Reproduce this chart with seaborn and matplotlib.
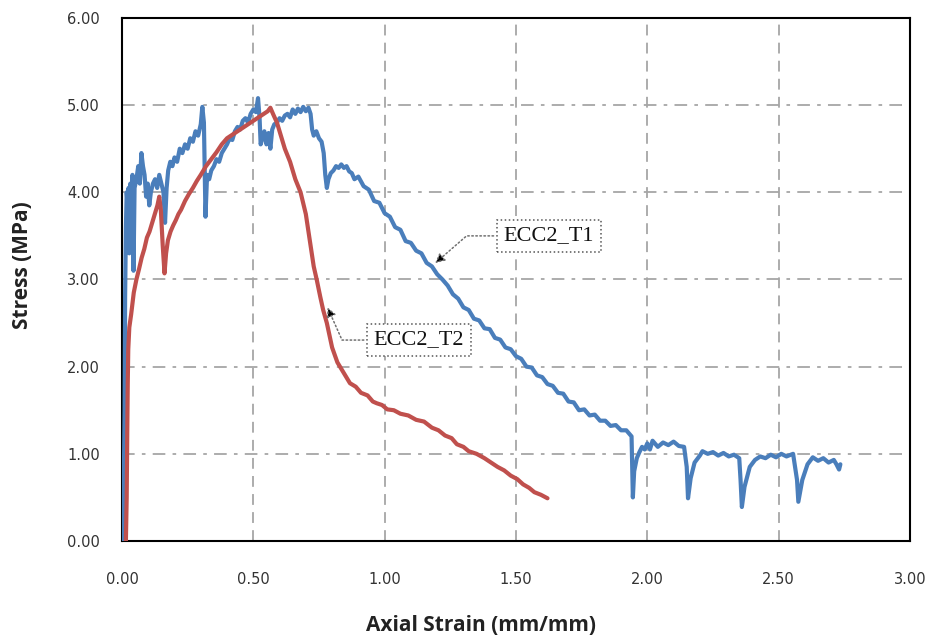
import matplotlib
matplotlib.use("Agg")
import matplotlib.pyplot as plt
import seaborn as sns
import numpy as np

# %% data -----------------------------------------------------------------
# ECC2_T1 (blue)
t1_strain = [
    0.000, 0.005, 0.010, 0.012, 0.015, 0.018, 0.022, 0.025, 0.028, 0.032,
    0.036, 0.040, 0.044, 0.048, 0.055, 0.062, 0.068, 0.074, 0.080, 0.086,
    0.092, 0.098, 0.104, 0.110, 0.118, 0.126, 0.134, 0.142, 0.150, 0.158,
    0.164, 0.170, 0.176, 0.184, 0.192, 0.200, 0.210, 0.220, 0.230, 0.240,
    0.250, 0.260, 0.270, 0.280, 0.290, 0.300, 0.306, 0.312, 0.318, 0.324,
    0.332, 0.340, 0.350, 0.360, 0.370, 0.380, 0.390, 0.400, 0.410, 0.420,
    0.430, 0.440, 0.450, 0.460, 0.470, 0.480, 0.490, 0.500, 0.510, 0.518,
    0.524, 0.528, 0.535, 0.542, 0.550, 0.558, 0.565, 0.572, 0.580, 0.590,
    0.600, 0.610, 0.620, 0.630, 0.640, 0.650, 0.660, 0.670, 0.680, 0.690,
    0.700, 0.710, 0.718, 0.724, 0.730, 0.740, 0.750, 0.760, 0.768, 0.774,
    0.780, 0.786, 0.795, 0.805, 0.815, 0.825, 0.835, 0.845, 0.855, 0.865,
    0.875, 0.885, 0.900, 0.920, 0.940, 0.960, 0.980, 1.000, 1.020, 1.040,
    1.060, 1.080, 1.100, 1.120, 1.140, 1.160, 1.180, 1.200, 1.220, 1.240,
    1.260, 1.280, 1.300, 1.320, 1.340, 1.360, 1.380, 1.400, 1.420, 1.440,
    1.460, 1.480, 1.500, 1.520, 1.540, 1.560, 1.580, 1.600, 1.620, 1.640,
    1.660, 1.680, 1.700, 1.720, 1.740, 1.760, 1.780, 1.800, 1.820, 1.840,
    1.860, 1.880, 1.900, 1.920, 1.940, 1.945, 1.950, 1.960, 1.970, 1.980,
    1.990, 2.000, 2.010, 2.020, 2.040, 2.060, 2.080, 2.100, 2.120, 2.140,
    2.150, 2.155, 2.165, 2.180, 2.200, 2.210, 2.230, 2.250, 2.270, 2.290,
    2.310, 2.330, 2.350, 2.355, 2.360, 2.370, 2.390, 2.410, 2.430, 2.450,
    2.470, 2.490, 2.510, 2.530, 2.555, 2.570, 2.575, 2.590, 2.610, 2.630,
    2.650, 2.670, 2.690, 2.710, 2.720, 2.730, 2.735,
]
t1_stress = [
    0.00, 0.10, 1.50, 2.80, 3.60, 4.00, 3.85, 4.05, 3.30, 4.10,
    3.95, 4.20, 3.10, 4.05, 4.15, 4.30, 4.10, 4.45, 4.30, 4.20,
    3.95, 4.10, 3.85, 4.00, 4.10, 4.15, 4.05, 4.20, 4.10, 4.00,
    3.65, 4.05, 4.25, 4.35, 4.30, 4.40, 4.35, 4.50, 4.45, 4.55,
    4.50, 4.62, 4.58, 4.70, 4.65, 4.78, 4.98, 4.80, 3.72, 4.20,
    4.15, 4.25, 4.30, 4.38, 4.35, 4.45, 4.50, 4.55, 4.62, 4.60,
    4.70, 4.75, 4.72, 4.82, 4.85, 4.80, 4.90, 4.95, 4.92, 5.08,
    4.85, 4.55, 4.62, 4.70, 4.55, 4.68, 4.50, 4.72, 4.78, 4.80,
    4.85, 4.82, 4.88, 4.90, 4.86, 4.95, 4.90, 4.96, 4.92, 4.98,
    4.93, 4.97, 4.90, 4.72, 4.65, 4.70, 4.62, 4.58, 4.45, 4.20,
    4.05, 4.15, 4.22, 4.25, 4.30, 4.28, 4.32, 4.28, 4.30, 4.24,
    4.22, 4.15, 4.18, 4.07, 4.03, 3.90, 3.88, 3.76, 3.72, 3.60,
    3.57, 3.44, 3.42, 3.33, 3.30, 3.19, 3.15, 3.06, 3.00, 2.93,
    2.83, 2.78, 2.68, 2.65, 2.55, 2.53, 2.44, 2.43, 2.33, 2.31,
    2.22, 2.20, 2.12, 2.09, 2.00, 1.99, 1.90, 1.88, 1.80, 1.78,
    1.70, 1.69, 1.60, 1.59, 1.50, 1.51, 1.44, 1.45, 1.38, 1.38,
    1.32, 1.33, 1.27, 1.27, 1.20, 0.50, 0.80, 0.95, 1.02, 1.08,
    1.05, 1.12, 1.05, 1.15, 1.08, 1.13, 1.10, 1.14, 1.09, 1.08,
    0.85, 0.49, 0.72, 0.90, 0.98, 1.03, 1.00, 1.02, 0.98, 1.01,
    0.97, 0.99, 0.95, 0.70, 0.39, 0.62, 0.85, 0.93, 0.97, 0.95,
    0.99, 0.96, 1.00, 0.97, 1.00, 0.70, 0.45, 0.70, 0.88, 0.96,
    0.92, 0.95, 0.90, 0.93, 0.88, 0.82, 0.88,
]

# ECC2_T2 (red)
t2_strain = [
    0.015, 0.018, 0.020, 0.022, 0.024, 0.028, 0.035, 0.045, 0.055, 0.065,
    0.075, 0.085, 0.095, 0.105, 0.115, 0.125, 0.135, 0.142, 0.148, 0.155,
    0.162, 0.168, 0.175, 0.185, 0.195, 0.205, 0.215, 0.225, 0.240, 0.255,
    0.270, 0.285, 0.300, 0.320, 0.340, 0.360, 0.380, 0.400, 0.420, 0.440,
    0.460, 0.480, 0.500, 0.520, 0.540, 0.555, 0.565, 0.575, 0.590, 0.605,
    0.620, 0.640, 0.660, 0.680, 0.700, 0.715, 0.730, 0.742, 0.755, 0.766,
    0.780, 0.800, 0.820, 0.840, 0.868, 0.890, 0.910, 0.935, 0.955, 0.970,
    0.990, 1.010, 1.035, 1.060, 1.090, 1.120, 1.150, 1.180, 1.205, 1.230,
    1.255, 1.275, 1.300, 1.320, 1.350, 1.380, 1.405, 1.430, 1.455, 1.480,
    1.505, 1.527, 1.550, 1.570, 1.595, 1.620,
]
t2_stress = [
    0.00, 0.50, 1.20, 1.80, 2.20, 2.45, 2.60, 2.85, 3.00, 3.12,
    3.25, 3.35, 3.48, 3.55, 3.65, 3.75, 3.85, 3.95, 3.80, 3.40,
    3.07, 3.30, 3.45, 3.55, 3.62, 3.68, 3.75, 3.80, 3.90, 3.98,
    4.05, 4.13, 4.20, 4.30, 4.38, 4.46, 4.55, 4.62, 4.66, 4.70,
    4.74, 4.78, 4.82, 4.86, 4.90, 4.93, 4.97, 4.90, 4.80, 4.65,
    4.50, 4.35, 4.15, 4.00, 3.75, 3.45, 3.15, 2.99, 2.80, 2.65,
    2.50, 2.22, 2.05, 1.95, 1.81, 1.77, 1.70, 1.67, 1.60, 1.58,
    1.56, 1.51, 1.50, 1.46, 1.44, 1.39, 1.37, 1.30, 1.27, 1.21,
    1.18, 1.11, 1.08, 1.03, 1.00, 0.95, 0.90, 0.85, 0.81, 0.75,
    0.71, 0.65, 0.61, 0.56, 0.53, 0.49,
]

x_ticks = [0.0, 0.5, 1.0, 1.5, 2.0, 2.5, 3.0]
y_ticks = [0.0, 1.0, 2.0, 3.0, 4.0, 5.0, 6.0]

blue = '#4a7ebb'
red = '#c0504d'

# %% plot -----------------------------------------------------------------
sns.set_style('white')
fig = plt.figure(figsize=(9.36, 6.41), dpi=100)
ax = fig.add_axes([0.1303, 0.156, 0.8419, 0.816])

sns.lineplot(x=t1_strain, y=t1_stress, sort=False, estimator=None,
             color=blue, lw=3.0, ax=ax, zorder=3)
sns.lineplot(x=t2_strain, y=t2_stress, sort=False, estimator=None,
             color=red, lw=3.0, ax=ax, zorder=4)

ax.set_xlim(0, 3)
ax.set_ylim(0, 6)
ax.set_xticks(x_ticks)
ax.set_yticks(y_ticks)
ax.set_xticklabels([f'{v:.2f}' for v in x_ticks])
ax.set_yticklabels([f'{v:.2f}' for v in y_ticks])

# grid: dashed verticals, dash-dot horizontals
ax.xaxis.grid(True, color='#a6a6a6', lw=1.3, ls=(0, (6, 4)))
ax.yaxis.grid(True, color='#a6a6a6', lw=1.3, ls=(0, (7, 4, 2, 4)))
ax.set_axisbelow(True)

for s in ax.spines.values():
    s.set_visible(True)
    s.set_color('black')
    s.set_linewidth(1.5)

ax.tick_params(axis='both', direction='in', length=5, width=1.5, color='black',
               labelsize=10.5, labelcolor='#333333')
ax.tick_params(axis='x', pad=22)
ax.tick_params(axis='y', pad=16)

ax.set_xlabel('Axial Strain (mm/mm)', fontsize=15, fontweight='bold',
              family='Open Sans', color='#222222')
ax.set_ylabel('Stress (MPa)', fontsize=15, fontweight='bold',
              family='Open Sans', color='#222222')
ax.xaxis.set_label_coords(0.4556, -0.1415)
ax.yaxis.set_label_coords(-0.113, 0.528)

# callouts
box = dict(boxstyle='square,pad=0.3', fc='white', ec='#555555', ls=':', lw=1.1)
ax.annotate('ECC2_T1', xy=(1.184, 3.165), xytext=(1.625, 3.50),
            ha='center', va='center', fontsize=16, family='Liberation Serif',
            color='#111111', bbox=box, zorder=6,
            arrowprops=dict(arrowstyle='-|>', fc='black', ec='#707070', ls=':',
                            lw=1.1, mutation_scale=14,
                            connectionstyle='angle,angleA=0,angleB=41,rad=0'))
ax.annotate('ECC2_T2', xy=(0.778, 2.71), xytext=(1.131, 2.305),
            ha='center', va='center', fontsize=16, family='Liberation Serif',
            color='#111111', bbox=box, zorder=6,
            arrowprops=dict(arrowstyle='-|>', fc='black', ec='#707070', ls=':',
                            lw=1.1, mutation_scale=14,
                            connectionstyle='angle,angleA=0,angleB=-66,rad=0'))

plt.savefig('out.png', dpi=100)
plt.close('all')
